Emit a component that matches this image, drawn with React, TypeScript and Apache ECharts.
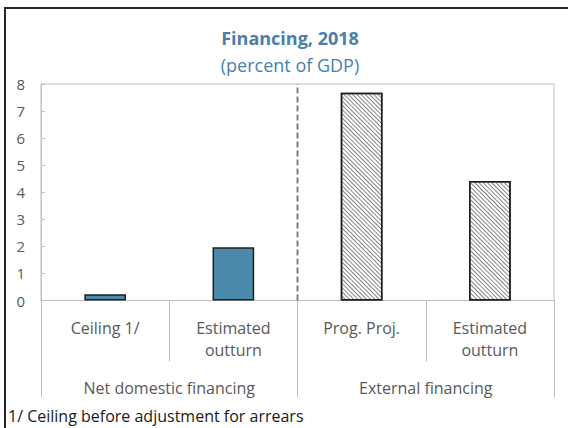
import React, { useEffect, useRef } from "react";
import * as echarts from "echarts";

const categories = ["Ceiling 1/", "Estimated\noutturn", "Prog. Proj.", "Estimated\noutturn"];
const groups = ["Net domestic financing", "External financing"];
const domesticValues = [0.23, 1.97, null, null];
const externalValues = [null, null, 7.68, 4.42];
const dividerLine = [[2, 0], [2, 8]];
const yTicks = { min: 0, max: 8, interval: 1 };

const FONT = "Open Sans";
const GREY = "#595959";
const AXIS = "#bfbfbf";

export default function App() {
  const ref = useRef<HTMLDivElement>(null);
  useEffect(() => {
    if (!ref.current) return;
    const chart = echarts.init(ref.current, undefined, { renderer: "svg" });
    chart.setOption({
      animation: false,
      textStyle: { fontFamily: FONT },
      title: [
        {
          text: "Financing, 2018",
          left: 290,
          top: 27,
          padding: 0,
          textAlign: "center",
          textStyle: { fontFamily: FONT, fontSize: 18, fontWeight: "bold", color: "#4a7fab", lineHeight: 22 },
        },
        {
          text: "(percent of GDP)",
          left: 290,
          top: 54,
          padding: 0,
          textAlign: "center",
          textStyle: { fontFamily: FONT, fontSize: 18, fontWeight: "normal", color: "#4a7fab", lineHeight: 22 },
        },
        {
          text: "1/ Ceiling before adjustment for arrears",
          left: 8,
          top: 407,
          padding: 0,
          textStyle: { fontFamily: FONT, fontSize: 16, fontWeight: "normal", color: "#1a1a1a", lineHeight: 18 },
        },
      ],
      grid: {
        left: 41,
        right: 14,
        top: 84,
        bottom: 127.5,
        show: true,
        borderColor: AXIS,
        borderWidth: 1,
        containLabel: false,
      },
      xAxis: [
        {
          type: "category",
          data: categories,
          position: "bottom",
          boundaryGap: true,
          axisLine: { show: true, lineStyle: { color: AXIS, width: 1 } },
          axisTick: { show: true, length: 61, lineStyle: { color: AXIS, width: 1 } },
          axisLabel: {
            margin: 16,
            color: GREY,
            fontFamily: FONT,
            fontSize: 16,
            lineHeight: 22,
            verticalAlign: "top",
            interval: 0,
          },
          splitLine: { show: false },
        },
        {
          type: "category",
          data: groups,
          position: "bottom",
          boundaryGap: true,
          axisLine: { show: false },
          axisTick: { show: true, length: 97, lineStyle: { color: AXIS, width: 1 } },
          axisLabel: {
            margin: 76,
            color: GREY,
            fontFamily: FONT,
            fontSize: 16,
            lineHeight: 22,
            verticalAlign: "top",
            interval: 0,
          },
          splitLine: { show: false },
        },
        {
          type: "value",
          min: 0,
          max: 4,
          position: "top",
          show: false,
        },
      ],
      yAxis: {
        type: "value",
        min: yTicks.min,
        max: yTicks.max,
        interval: yTicks.interval,
        axisLine: { show: true, lineStyle: { color: AXIS, width: 1 } },
        axisTick: { show: true, inside: true, length: 4, lineStyle: { color: AXIS } },
        axisLabel: { color: GREY, fontFamily: FONT, fontSize: 15, margin: 16 },
        splitLine: { show: false },
      },
      series: [
        {
          type: "bar",
          xAxisIndex: 0,
          data: domesticValues,
          barWidth: "32.5%",
          barGap: "-100%",
          itemStyle: { color: "#4a89ac", borderColor: "#1f1f1f", borderWidth: 1.5 },
        },
        {
          type: "bar",
          xAxisIndex: 0,
          data: externalValues,
          barWidth: "32.5%",
          barGap: "-100%",
          itemStyle: {
            color: "#ffffff",
            borderColor: "#1f1f1f",
            borderWidth: 1.5,
            decal: {
              symbol: "rect",
              symbolSize: 1,
              color: "#858585",
              dashArrayX: [1, 0],
              dashArrayY: [1, 2],
              rotation: Math.PI / 4,
            },
          },
        },
        {
          type: "line",
          xAxisIndex: 2,
          yAxisIndex: 0,
          data: dividerLine,
          symbol: "none",
          silent: true,
          lineStyle: { color: "#808080", width: 2, type: [6, 3] },
          z: 5,
        },
      ],
    });
    return () => chart.dispose();
  }, []);
  return (
    <div style={{ position: "absolute", left: 0, top: 0, width: 568, height: 428, background: "#fff" }}>
      <div ref={ref} style={{ width: 568, height: 428 }} />
      <div
        style={{
          position: "absolute",
          left: 4,
          top: 7,
          width: 600,
          height: 500,
          borderTop: "2px solid #262626",
          borderLeft: "2px solid #262626",
          pointerEvents: "none",
        }}
      />
    </div>
  );
}
